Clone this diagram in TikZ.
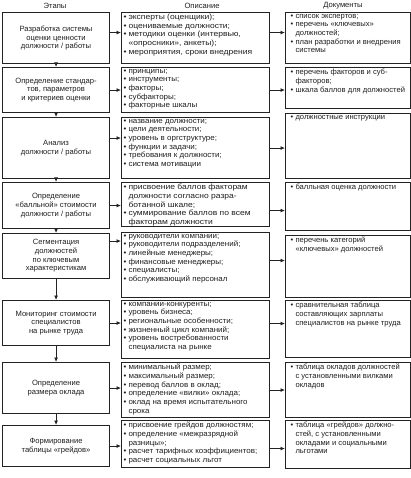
\documentclass[tikz,border=0pt]{standalone}
\usepackage{fontspec}
\setmainfont{Liberation Sans}
\newfontfamily\descfont[FakeStretch=1.05]{Liberation Sans}
\newfontfamily\widefont[FakeStretch=1.12]{Liberation Sans}
\usetikzlibrary{arrows.meta}

\definecolor{flowLine}{RGB}{35,35,35}
\definecolor{flowText}{RGB}{30,30,30}

\newcommand{\bul}{\makebox[5pt][l]{\textbullet}}
\newcommand{\cont}{\hspace*{5pt}}
\newcommand{\topbox}[3]{\parbox[c][#2][t]{#1}{\raggedright #3}}

\begin{document}
\begin{tikzpicture}[x=1pt, y=-1pt,
  every node/.style={font=\fontsize{7.6}{8.7}\selectfont, text=flowText},
  stage/.style={draw=flowLine, line width=1.1pt, align=center, inner sep=0pt,
    minimum width=107pt, anchor=north west},
  desc/.style={draw=flowLine, line width=1.1pt, inner xsep=2pt, inner ysep=1.5pt,
    anchor=north west, font=\descfont\fontsize{7.6}{8.7}\selectfont},
  descwide/.style={desc, font=\widefont\fontsize{7.6}{8.7}\selectfont},
  docs/.style={desc, inner xsep=5pt, font=\fontsize{7.6}{8.7}\selectfont},
  head/.style={inner sep=0pt},
  arr/.style={draw=flowLine, line width=0.8pt, -{Latex[length=4.5pt, width=4pt]}}]
  \useasboundingbox (0,0) rectangle (411,478);

  % column heads
  \node[head] (hstage) at (55,6) {Этапы};
  \node[head] (hdesc) at (202,6) {Описание};
  \node[head] (hdocs) at (343,6) {Документы};

  % stages
  \node[stage, minimum height=51pt] (l1) at (2,12) {Разработка системы\\оценки ценности\\должности / работы};
  \node[stage, minimum height=45pt] (l2) at (2,67) {Определение стандар-\\тов, параметров\\и критериев оценки};
  \node[stage, minimum height=61pt] (l3) at (2,117) {Анализ\\должности / работы};
  \node[stage, minimum height=46pt] (l4) at (2,182) {Определение\\«балльной» стоимости\\должности / работы};
  \node[stage, minimum height=45pt] (l5) at (2,233) {Сегментация\\должностей\\по ключевым\\характеристикам};
  \node[stage, minimum height=45pt] (l6) at (2,300) {Мониторинг стоимости\\специалистов\\на рынке труда};
  \node[stage, minimum height=51pt] (l7) at (2,362) {Определение\\размера оклада};
  \node[stage, minimum height=41pt] (l8) at (2,425) {Формирование\\таблицы «грейдов»};

  % descriptions
  \node[descwide] (m1) at (121,12) {\topbox{144pt}{48pt}{\bul эксперты (оценщики);\\\bul оцениваемые должности;\\\bul методики оценки (интервью,\\\cont«опросники», анкеты);\\\bul мероприятия, сроки внедрения}};
  \node[desc] (m2) at (121,67) {\topbox{144pt}{42pt}{\bul принципы;\\\bul инструменты;\\\bul факторы;\\\bul субфакторы;\\\bul факторные шкалы}};
  \node[desc] (m3) at (121,117) {\topbox{144pt}{58pt}{\bul название должности;\\\bul цели деятельности;\\\bul уровень в оргструктуре;\\\bul функции и задачи;\\\bul требования к должности;\\\bul система мотивации}};
  \node[descwide] (m4) at (121,182) {\topbox{144pt}{41pt}{\bul присвоение баллов факторам\\\cont должности согласно разра-\\\cont ботанной шкале;\\\bul суммирование баллов по всем\\\cont факторам должности}};
  \node[desc] (m5) at (121,232) {\topbox{144pt}{62pt}{\bul руководители компании;\\\bul руководители подразделений;\\\bul линейные менеджеры;\\\bul финансовые менеджеры;\\\bul специалисты;\\\bul обслуживающий персонал}};
  \node[desc] (m6) at (121,300) {\topbox{144pt}{55pt}{\bul компании-конкуренты;\\\bul уровень бизнеса;\\\bul региональные особенности;\\\bul жизненный цикл компаний;\\\bul уровень востребованности\\\cont специалиста на рынке}};
  \node[desc] (m7) at (121,362) {\topbox{144pt}{52pt}{\bul минимальный размер;\\\bul максимальный размер;\\\bul перевод баллов в оклад;\\\bul определение «вилки» оклада;\\\bul оклад на время испытательного\\\cont срока}};
  \node[desc] (m8) at (121,420) {\topbox{144pt}{44pt}{\bul присвоение грейдов должностям;\\\bul определение «межразрядной\\\cont разницы»;\\\bul расчет тарифных коэффициентов;\\\bul расчет социальных льгот}};

  % documents
  \node[docs] (r1) at (285,12) {\topbox{115pt}{48pt}{\bul список экспертов;\\\bul перечень «ключевых»\\\cont должностей;\\\bul план разработки и внедрения\\\cont системы}};
  \node[docs] (r2) at (285,67) {\topbox{115pt}{38pt}{\bul перечень факторов и суб-\\\cont факторов;\\\bul шкала баллов для должностей}};
  \node[docs] (r3) at (285,113) {\topbox{115pt}{62pt}{\bul должностные инструкции}};
  \node[docs] (r4) at (285,182) {\topbox{115pt}{45pt}{\bul балльная оценка должности}};
  \node[docs] (r5) at (285,235) {\topbox{115pt}{59pt}{\bul перечень категорий\\\cont«ключевых» должностей}};
  \node[docs] (r6) at (285,300) {\topbox{115pt}{54pt}{\bul сравнительная таблица\\\cont составляющих зарплаты\\\cont специалистов на рынке труда}};
  \node[docs] (r7) at (285,362) {\topbox{115pt}{52pt}{\bul таблица окладов должностей\\\cont с установленными вилками\\\cont окладов}};
  \node[docs] (r8) at (285,420) {\topbox{115pt}{45pt}{\bul таблица «грейдов» должно-\\\cont стей, с установленными\\\cont окладами и социальными\\\cont льготами}};

  % stage chain
  \draw[arr] (l1) -- (l2);
  \draw[arr] (l2) -- (l3);
  \draw[arr] (l3) -- (l4);
  \draw[arr] (l4) -- (l5);
  \draw[arr] (l5) -- (l6);
  \draw[arr] (l6) -- (l7);
  \draw[arr] (l7) -- (l8);

  % stage -> description
  \draw[arr] ([yshift=5.5pt]l1.east) -- ([yshift=5.5pt]l1.east -| m1.west);
  \draw[arr] (l2.east) -- (l2.east -| m2.west);
  \draw[arr] ([yshift=10pt]l3.east) -- ([yshift=10pt]l3.east -| m3.west);
  \draw[arr] (l4.east) -- (l4.east -| m4.west);
  \draw[arr] ([yshift=15pt]l5.east) -- ([yshift=15pt]l5.east -| m5.west);
  \draw[arr] (l6.east) -- (l6.east -| m6.west);
  \draw[arr] (l7.east) -- (l7.east -| m7.west);
  \draw[arr] (l8.east) -- (l8.east -| m8.west);

  % description -> documents
  \draw[arr] ([yshift=5.5pt]m1.east) -- ([yshift=5.5pt]m1.east -| r1.west);
  \draw[arr] (m2.east) -- (m2.east -| r2.west);
  \draw[arr] (m3.east) -- (m3.east -| r3.west);
  \draw[arr] ([yshift=-6pt]m4.east) -- ([yshift=-6pt]m4.east -| r4.west);
  \draw[arr] ([yshift=4.5pt]m5.east) -- ([yshift=4.5pt]m5.east -| r5.west);
  \draw[arr] ([yshift=6pt]m6.east) -- ([yshift=6pt]m6.east -| r6.west);
  \draw[arr] (m7.east) -- (m7.east -| r7.west);
  \draw[arr] ([yshift=-4.5pt]m8.east) -- ([yshift=-4.5pt]m8.east -| r8.west);
\end{tikzpicture}
\end{document}
